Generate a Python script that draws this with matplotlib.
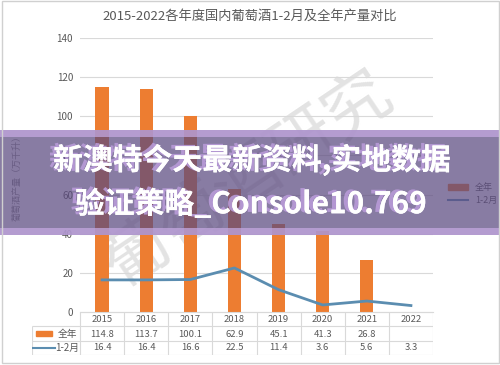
import matplotlib
matplotlib.use('Agg')
import matplotlib.pyplot as plt
import matplotlib.patches as mpatches
import matplotlib.patheffects as pe
from matplotlib.lines import Line2D

plt.rcParams['font.family'] = ['Noto Sans CJK SC', 'DejaVu Sans']

# data
years = ['2015', '2016', '2017', '2018', '2019', '2020', '2021', '2022']
full_year = [114.8, 113.7, 100.1, 62.9, 45.1, 41.3, 26.8, None]
jan_feb = [16.4, 16.4, 16.6, 22.5, 11.4, 3.6, 5.6, 3.3]
y_ticks = [0, 20, 40, 60, 80, 100, 120, 140]

title = '2015-2022各年度国内葡萄酒1-2月及全年产量对比'
y_label = '葡萄酒产量（万千升）'
overlay = ['新澳特今天最新资料,实地数据', '验证策略_Console10.769']

orange = '#ED7D31'
blue = '#5B8DB0'
grid = '#d9d9d9'
txt = '#595959'

W, H = 500, 365
fig = plt.figure(figsize=(W / 100, H / 100), dpi=100)


def fx(px):
    return px / W


def fy(py):
    return 1 - py / H


# main chart area
ax = fig.add_axes([fx(80), fy(312), fx(353), 274 / H])
x = list(range(len(years)))
bar_x = [i for i, v in zip(x, full_year) if v is not None]
bar_v = [v for v in full_year if v is not None]
ax.bar(bar_x, bar_v, width=0.3, color=orange, zorder=2, label='全年')
ax.plot(x, jan_feb, color=blue, lw=2, zorder=3, label='1-2月')
ax.set_xlim(-0.5, len(years) - 0.5)
ax.set_ylim(0, 140)
ax.set_yticks(y_ticks)
ax.set_xticks([])
ax.tick_params(axis='y', length=0, pad=5, labelsize=7, labelcolor=txt)
ax.grid(axis='y', color=grid, lw=0.8, zorder=0)
for s in ['top', 'right', 'left']:
    ax.spines[s].set_visible(False)
ax.spines['bottom'].set_color(grid)

ax.legend(handles=[mpatches.Patch(color=orange, label='全年'),
                   Line2D([], [], color=blue, lw=1.5, label='1-2月')],
          loc='center left', bbox_to_anchor=(fx(440), fy(194)),
          bbox_transform=fig.transFigure, frameon=False, fontsize=6.5,
          labelcolor=txt, handlelength=2.2, handleheight=0.5, labelspacing=0.4)

# watermark
ax.text(fx(248), fy(180), '葡萄酒研究', transform=fig.transFigure, rotation=34,
        fontsize=48, color='#e3e3e3', ha='center', va='center', zorder=1,
        clip_on=False)

# data table under the chart
tab = fig.add_axes([fx(32), fy(355), fx(401), 43 / H])
xl = -0.5 - 48 / 44.125
tab.set_xlim(xl, len(years) - 0.5)
tab.set_ylim(3, 0)
tab.axis('off')
tab.hlines(0, -0.5, len(years) - 0.5, color=grid, lw=0.8)
tab.hlines([1, 2, 3], xl, len(years) - 0.5, color=grid, lw=0.8)
tab.vlines([i - 0.5 for i in range(len(years) + 1)], 0, 3, color=grid, lw=0.8)
tab.vlines(xl, 1, 3, color=grid, lw=0.8)
for i, yr in enumerate(years):
    tab.text(i, 0.55, yr, ha='center', va='center', fontsize=6.8, color=txt)
    if full_year[i] is not None:
        tab.text(i, 1.55, f'{full_year[i]:.1f}', ha='center', va='center',
                 fontsize=6.8, color=txt)
    tab.text(i, 2.5, f'{jan_feb[i]:.1f}', ha='center', va='center',
             fontsize=6.8, color=txt)
tab.add_patch(mpatches.Rectangle((xl + 0.09, 1.35), 0.37, 0.32, color=orange))
tab.text(xl + 0.8, 1.5, '全年', ha='center', va='center', fontsize=7, color=txt)
tab.plot([xl + 0.02, xl + 0.52], [2.5, 2.5], color=blue, lw=1.5)
tab.text(xl + 0.8, 2.5, '1-2月', ha='center', va='center', fontsize=7, color=txt)

fig.text(fx(250), fy(16), title, ha='center', va='center', fontsize=9.5, color=txt)
fig.text(fx(17), fy(176), y_label, rotation=90, ha='center', va='center',
         fontsize=6.5, color='#8c8c8c')

# purple banner over the chart
fig.patches.append(mpatches.Rectangle((0, fy(235)), 1, 105 / H, transform=fig.transFigure,
                                      color='#5b4a80', alpha=0.72, zorder=5, lw=0))
for top in (130, 228):
    fig.patches.append(mpatches.Rectangle((0, fy(top + 7)), 1, 7 / H,
                                          transform=fig.transFigure,
                                          color='#c3a8e0', alpha=0.75, zorder=6, lw=0))
shadow = [pe.withSimplePatchShadow(offset=(-3, 1), shadow_rgbFace='#b89bd8', alpha=0.9),
          pe.Normal()]
fig.text(fx(252), fy(160), overlay[0], ha='center', va='center', fontsize=21.5,
         fontweight='heavy', color='white', zorder=7, path_effects=shadow)
fig.text(fx(251), fy(204), overlay[1], ha='center', va='center', fontsize=21.5,
         fontweight='heavy', color='white', zorder=7, path_effects=shadow)

# faint frame
fig.patches.append(mpatches.Rectangle((0.003, 0.006), 0.994, 0.99, transform=fig.transFigure,
                                      fill=False, edgecolor='#d0d0d0', lw=1, zorder=8))

fig.savefig('out.png', dpi=100)
